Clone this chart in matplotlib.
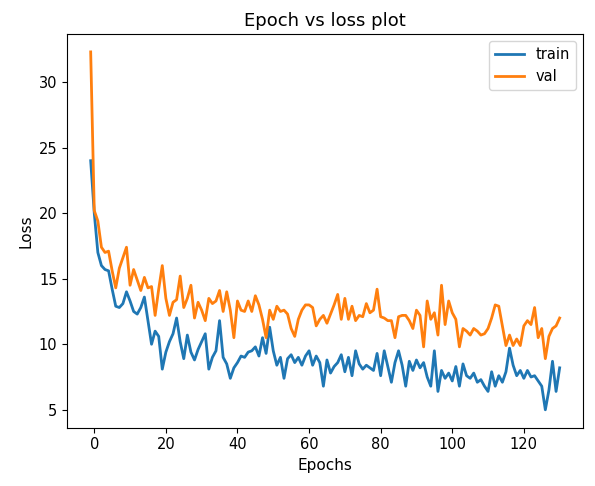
import numpy as np
import matplotlib
matplotlib.use("Agg")
import matplotlib.pyplot as plt

epochs = np.arange(-1, 131)

train = [24.0, 20.0, 17.0, 16.0, 15.7, 15.6, 14.2, 12.9, 12.8, 13.1,
         14.0, 13.3, 12.5, 12.3, 12.8, 13.6, 11.8, 10.0, 11.0, 10.6,
         8.1, 9.4, 10.2, 10.8, 12.0, 10.2, 8.9, 10.7, 9.4, 8.8,
         9.6, 10.2, 10.8, 8.1, 9.0, 9.5, 11.8, 9.0, 8.5, 7.4,
         8.2, 8.6, 9.1, 9.0, 9.4, 9.5, 9.8, 9.1, 10.5, 9.3,
         11.3, 9.5, 8.4, 9.0, 7.4, 8.9, 9.2, 8.6, 9.0, 8.4,
         9.1, 9.5, 8.4, 9.1, 8.6, 6.8, 8.8, 7.8, 8.3, 8.6,
         9.2, 7.9, 9.0, 7.6, 9.5, 8.5, 8.1, 8.4, 8.2, 8.0,
         9.3, 7.6, 9.5, 8.3, 7.1, 8.6, 9.5, 8.4, 6.8, 8.7,
         8.0, 8.8, 8.2, 8.6, 7.5, 6.8, 9.5, 6.4, 8.0, 7.4,
         7.8, 7.2, 8.3, 6.8, 8.5, 7.6, 7.4, 7.8, 7.1, 7.3,
         6.8, 6.4, 7.9, 6.8, 7.6, 7.1, 7.9, 9.7, 8.4, 7.6,
         8.0, 7.4, 8.0, 7.5, 7.6, 7.2, 6.8, 5.0, 6.5, 8.7,
         6.4, 8.2]

val = [32.3, 20.2, 19.4, 17.4, 17.0, 17.1, 15.6, 14.3, 15.8, 16.6,
       17.4, 14.5, 15.7, 14.9, 14.1, 15.1, 14.3, 14.4, 12.2, 14.2,
       16.0, 13.5, 12.2, 13.2, 13.4, 15.2, 12.8, 13.5, 14.5, 12.0,
       13.2, 12.6, 11.8, 13.5, 13.1, 13.3, 14.1, 12.5, 14.0, 12.6,
       10.5, 13.3, 12.6, 12.5, 13.3, 12.5, 13.7, 13.0, 11.9, 10.5,
       12.6, 11.9, 12.9, 12.5, 12.6, 12.3, 11.2, 10.6, 11.9, 12.6,
       13.0, 13.0, 12.8, 11.4, 11.9, 12.2, 11.6, 12.3, 13.0, 13.8,
       11.9, 13.5, 11.9, 12.9, 11.8, 12.2, 12.1, 13.1, 12.4, 12.6,
       14.2, 12.1, 12.0, 11.8, 11.8, 10.5, 12.1, 12.2, 12.2, 11.8,
       11.2, 12.6, 12.2, 9.8, 13.3, 11.9, 12.4, 10.7, 14.5, 11.5,
       13.3, 12.4, 11.9, 9.8, 11.2, 11.0, 10.7, 11.2, 11.0, 10.7,
       10.8, 11.2, 12.0, 13.0, 12.9, 11.4, 9.9, 10.7, 9.9, 10.4,
       9.9, 11.4, 11.8, 11.5, 12.8, 10.5, 11.2, 8.9, 10.6, 11.2,
       11.4, 12.0]

fig = plt.figure(figsize=(5.95, 4.86), dpi=100)
ax = fig.add_axes([0.113, 0.12, 0.867, 0.81])

ax.plot(epochs, train, label="train", linewidth=2)
ax.plot(epochs, val, label="val", linewidth=2)

ax.set_title("Epoch vs loss plot", fontsize=13)
ax.set_xlabel("Epochs", fontsize=11)
ax.set_ylabel("Loss", fontsize=11)
ax.tick_params(labelsize=10.5)
ax.legend(loc="upper right", fontsize=10.5)

fig.savefig("out.png", dpi=100)
